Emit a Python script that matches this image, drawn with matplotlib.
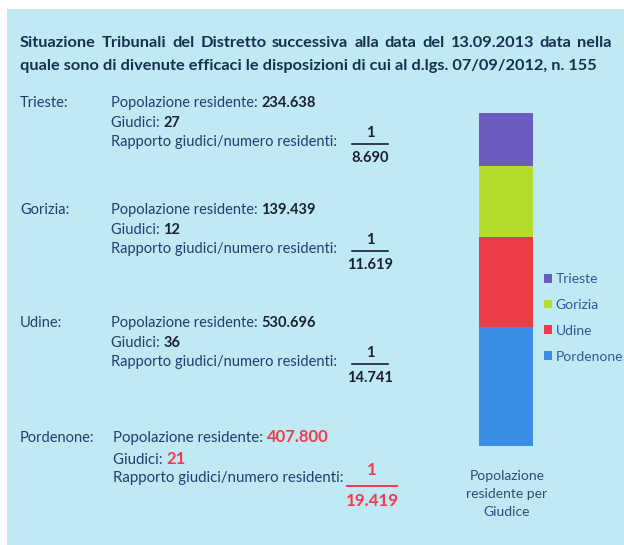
import matplotlib.pyplot as plt
from matplotlib.patches import Rectangle

plt.rcParams['font.family'] = ['Lato', 'DejaVu Sans']

# dati
tribunali = ['Trieste', 'Gorizia', 'Udine', 'Pordenone']
popolazione = [234638, 139439, 530696, 407800]
giudici = [27, 12, 36, 21]
residenti_per_giudice = [8690, 11619, 14741, 19419]
colori = ['#6d5cc0', '#b4dc2c', '#ee3b48', '#3b8de6']

titolo_1 = "Situazione Tribunali del Distretto successiva alla data del 13.09.2013 data nella"
titolo_2 = "quale sono di divenute efficaci le disposizioni di cui al d.lgs. 07/09/2012, n. 155"

W, H = 624, 545
BG = '#bfe9f3'
TXT = '#1f3f70'
NUM = '#1a2033'
RED = '#f7394e'


def fmt(v):
    return f"{v:,}".replace(",", ".")


fig = plt.figure(figsize=(W / 100, H / 100), dpi=100)
fig.patch.set_facecolor('white')

# tela a tutto schermo in coordinate pixel
cv = fig.add_axes([0, 0, 1, 1])
cv.set_xlim(0, W)
cv.set_ylim(H, 0)
cv.axis('off')
cv.add_patch(Rectangle((7, 9), W - 7, H - 9, facecolor=BG, edgecolor='none'))

# titolo (prima riga giustificata)
renderer = fig.canvas.get_renderer()
fs_tit = 11.75
parole = titolo_1.split(' ')
arts = [cv.text(0, 43, p, fontsize=fs_tit, fontweight='bold', color='#16304f', va='center')
        for p in parole]
inv = cv.transData.inverted()
larg = []
for a in arts:
    bb = a.get_window_extent(renderer)
    x0, _ = inv.transform((bb.x0, bb.y0))
    x1, _ = inv.transform((bb.x1, bb.y0))
    larg.append(x1 - x0)
gap = (612 - 20 - sum(larg)) / (len(parole) - 1)
x = 20
for a, w in zip(arts, larg):
    a.set_x(x)
    x += w + gap
cv.text(20, 66, titolo_2, fontsize=fs_tit, fontweight='bold', color='#16304f', va='center')

# blocchi di testo
righe_y = [103, 210, 323, 438]
for i, nome in enumerate(tribunali):
    y0 = righe_y[i]
    last = i == 3
    x0 = 113 if last else 111
    col = RED if last else NUM
    fs = 10.8 if last else 10.5
    fsn = 12 if last else 10.5
    cv.text(20, y0, nome + ':', fontsize=10.5, color=TXT, va='center')
    t1 = cv.text(x0, y0, 'Popolazione residente: ', fontsize=fs, color=TXT, va='center')
    cv.annotate(fmt(popolazione[i]), xy=(1, 0), xycoords=t1, va='bottom',
                fontsize=fsn, fontweight='bold', color=col)
    t2 = cv.text(x0, y0 + (22 if last else 20), 'Giudici: ', fontsize=fs,
                 color=TXT, va='center')
    cv.annotate(str(giudici[i]), xy=(1, 0), xycoords=t2, va='bottom',
                fontsize=fsn, fontweight='bold', color=col)
    cv.text(x0, y0 + (40 if last else 39), 'Rapporto giudici/numero residenti:',
            fontsize=fs, color=TXT, va='center')
    # frazione
    xc = 372 if last else 370
    hw = 25 if last else 18
    yl = y0 + (48 if last else 41)
    cv.text(xc, yl - (16 if last else 11), '1', fontsize=fsn, fontweight='bold',
            color=col, ha='center', va='center')
    cv.plot([xc - hw, xc + hw], [yl, yl], color=col, lw=1.4 if last else 1.2)
    cv.text(xc, yl + (15 if last else 14), fmt(residenti_per_giudice[i]),
            fontsize=12.2 if last else 10.5, fontweight='bold', color=col,
            ha='center', va='center')

# grafico a barre impilate
ax = fig.add_axes([479 / W, 1 - 446 / H, 54 / W, 333 / H])
ax.set_facecolor('none')
base = 0
for k in [3, 2, 1, 0]:
    ax.bar(0, residenti_per_giudice[k], bottom=base, width=1, color=colori[k],
           label=tribunali[k])
    base += residenti_per_giudice[k]
ax.set_xlim(-0.5, 0.5)
ax.set_ylim(0, base)
ax.axis('off')

handles, labels = ax.get_legend_handles_labels()
ax.legend(handles[::-1], labels[::-1], loc='upper left',
          bbox_to_anchor=(544 / W, 1 - 273 / H), bbox_transform=fig.transFigure,
          frameon=False, fontsize=10, labelcolor='#2c5a9a', handlelength=0.6,
          handleheight=0.6, handletextpad=0.25, labelspacing=1.0, borderpad=0,
          borderaxespad=0)

cv.text(507, 494, 'Popolazione\nresidente per\nGiudice', fontsize=10,
        color='#2c4d72', ha='center', va='center', linespacing=1.6)

fig.savefig('out.png', dpi=100, facecolor=fig.get_facecolor())
